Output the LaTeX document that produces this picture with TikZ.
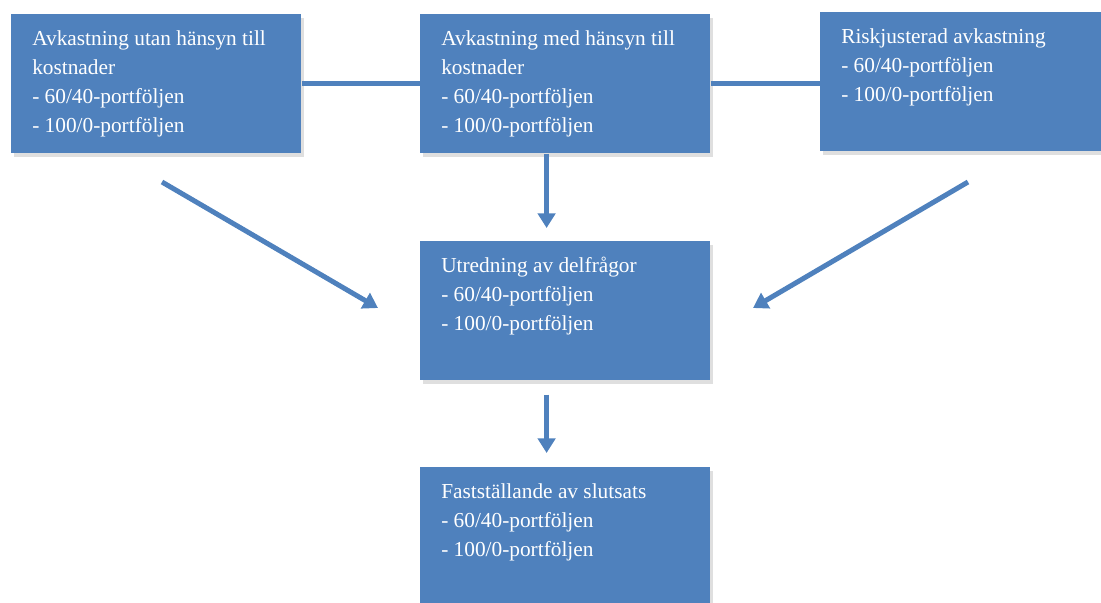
\documentclass[tikz,border=0pt]{standalone}
\usepackage{fontspec}
\setmainfont{Liberation Serif}
\usetikzlibrary{arrows.meta,shadows}
\definecolor{boxblue}{RGB}{79,129,189}

\begin{document}
\begin{tikzpicture}[x=0.75pt, y=-0.75pt,
    stagebox/.style={anchor=north west, fill=boxblue, text=white,
        inner xsep=15.75pt, inner ysep=0pt, text width=186pt, align=flush left,
        text height=23.25pt, text depth=81pt,
        font=\fontsize{16pt}{21.75pt}\selectfont,
        drop shadow={shadow xshift=2pt, shadow yshift=-2.5pt, opacity=0.25}},
    link/.style={draw=boxblue, line width=3.75pt},
    flow/.style={link, -{Triangle[length=11pt,width=13pt]}}]
    \useasboundingbox (0,0) rectangle (1101,603);

    % Top row
    \node[stagebox] (utan) at (11,14)
        {Avkastning utan hänsyn till kostnader\\- 60/40-portföljen\\- 100/0-portföljen};
    \node[stagebox] (med) at (420,14)
        {Avkastning med hänsyn till kostnader\\- 60/40-portföljen\\- 100/0-portföljen};
    \node[stagebox] (risk) at (820,12)
        {Riskjusterad avkastning\\- 60/40-portföljen\\- 100/0-portföljen};

    % Middle and bottom
    \node[stagebox] (utred) at (420,241)
        {Utredning av delfrågor\\- 60/40-portföljen\\- 100/0-portföljen};
    \node[stagebox] (slut) at (420,467)
        {Fastställande av slutsats\\- 60/40-portföljen\\- 100/0-portföljen};

    % Free ends of the slanted arrows
    \coordinate (lstart) at (162,182);
    \coordinate (lend) at (378,308);
    \coordinate (rstart) at (968,182);
    \coordinate (rend) at (753,308);

    % Connectors
    \draw[link] (utan.east) -- (med.west);
    \draw[link] (med.east) -- (med.east -| risk.west);
    \draw[flow, shorten >=9.75pt] ([xshift=-14pt]med.south) -- ([xshift=-14pt]utred.north);
    \draw[flow] (lstart) -- (lend);
    \draw[flow] (rstart) -- (rend);
    \draw[flow, shorten <=10.5pt, shorten >=10.5pt]
        ([xshift=-14pt]utred.south) -- ([xshift=-14pt]slut.north);
\end{tikzpicture}
\end{document}
